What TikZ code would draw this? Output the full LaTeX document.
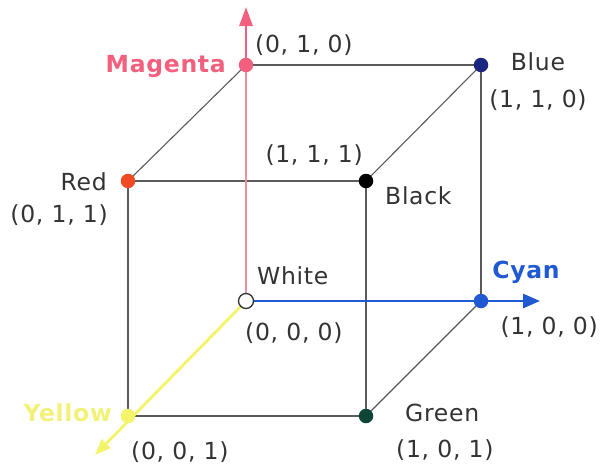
\documentclass[tikz,border=0pt]{standalone}
\usepackage{fontspec}
\setmainfont[LetterSpace=3]{DejaVu Sans}
\usetikzlibrary{arrows.meta}
\definecolor{magc}{HTML}{F2607E}
\definecolor{magline}{HTML}{EE8FA0}
\definecolor{redc}{HTML}{F04A23}
\definecolor{bluec}{HTML}{1C2580}
\definecolor{cyanc}{HTML}{1F5AD2}
\definecolor{greenc}{HTML}{0F4536}
\definecolor{yellowc}{HTML}{F4F46A}
\definecolor{yellowtxt}{HTML}{F2F27A}
\definecolor{edgegray}{HTML}{5A5A5A}
\definecolor{labelgray}{HTML}{333333}
\begin{document}
\begin{tikzpicture}[x=1pt,y=-1pt,
  edge/.style={draw=edgegray, line width=1.1pt},
  dot/.style={circle, inner sep=0pt, minimum size=14.5pt},
  lbl/.style={font=\fontsize{23.5}{26}\selectfont, text=labelgray, inner sep=0pt},
  blbl/.style={font=\fontsize{23.5}{26}\selectfont\bfseries, inner sep=0pt}]
\useasboundingbox (0,0) rectangle (600,464);
% vertices
\coordinate (W) at (246,301);
\coordinate (C) at (481,301);
\coordinate (M) at (246,65);
\coordinate (B) at (481,65);
\coordinate (R) at (128,181);
\coordinate (K) at (366,181);
\coordinate (Y) at (128,416);
\coordinate (G) at (366,416);
\coordinate (mtip) at (246,7);
\coordinate (ctip) at (540,301);
\coordinate (ytip) at (95,455);
% cube edges
\draw[edge] (R) -- (K) -- (G) -- (Y) -- (R);
\draw[edge] (M) -- (B) -- (C);
\draw[edge] (R) -- (M);
\draw[edge] (K) -- (B);
\draw[edge] (G) -- (C);
% axes
\draw[magline, line width=1.4pt] (W) -- (M);
\draw[magc, line width=2.6pt, -{Triangle[length=19pt,width=13pt]}] (M) -- (mtip);
\draw[cyanc, line width=2.8pt] (W) -- (C);
\draw[cyanc, line width=2.8pt, -{Triangle[length=17pt,width=14pt]}] (C) -- (ctip);
\draw[yellowc, line width=2.8pt, -{Triangle[length=16pt,width=12pt]}] (W) -- (ytip);
% dots
\node[dot, fill=magc] (nM) at (M) {};
\node[dot, fill=bluec] (nB) at (B) {};
\node[dot, fill=redc] (nR) at (R) {};
\node[dot, fill=black] (nK) at (K) {};
\node[dot, fill=cyanc] (nC) at (C) {};
\node[dot, fill=greenc] (nG) at (G) {};
\node[dot, fill=yellowc] (nY) at (Y) {};
\node[dot, fill=white, draw=labelgray, line width=1.3pt, minimum size=15pt] (nW) at (W) {};
% labels
\node[blbl, text=magc, anchor=east] (lM) at (226,66) {Magenta};
\node[lbl, anchor=west] (cM) at (255,45) {(0, 1, 0)};
\node[lbl] (lB) at (538,62) {Blue};
\node[lbl] (cB) at (538,100) {(1, 1, 0)};
\node[lbl, anchor=east] (lR) at (107,182) {Red};
\node[lbl, anchor=east] (cR) at (108,215) {(0, 1, 1)};
\node[lbl, anchor=east] (cK) at (363,155) {(1, 1, 1)};
\node[lbl, anchor=west] (lK) at (385,196) {Black};
\node[lbl, anchor=west] (lW) at (257,276) {White};
\node[lbl, anchor=west] (cW) at (245,333) {(0, 0, 0)};
\node[blbl, text=cyanc] (lC) at (526,272) {Cyan};
\node[lbl, anchor=east] (cC) at (598,327) {(1, 0, 0)};
\node[blbl, text=yellowtxt, anchor=east] (lY) at (112,413) {Yellow};
\node[lbl, anchor=west] (cY) at (131,452) {(0, 0, 1)};
\node[lbl, anchor=west] (lG) at (405,413) {Green};
\node[lbl, anchor=west] (cG) at (396,450) {(1, 0, 1)};
\end{tikzpicture}
\end{document}
